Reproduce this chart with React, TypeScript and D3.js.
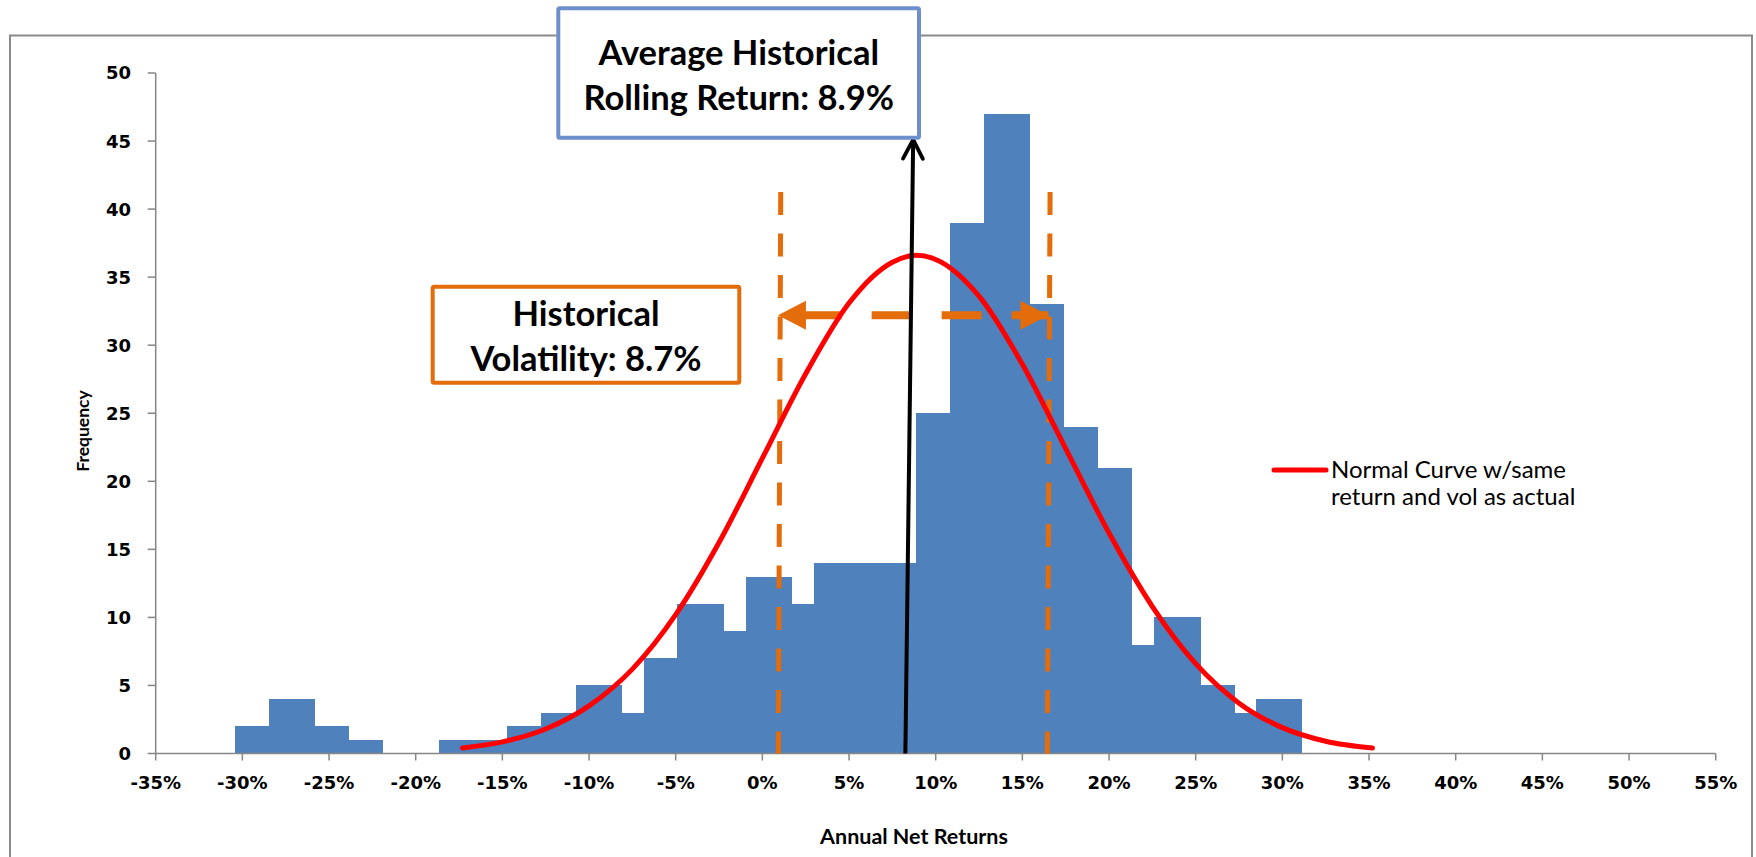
import React from 'react';
import * as d3 from 'd3';

// ---- data ----
const binStart = [-30.42, -28.46, -25.81, -23.85, -18.64, -16.67, -14.71, -12.75, -10.77, -8.13, -6.85, -4.9, -2.23, -0.94, 1.68, 2.97, 4.93, 6.89, 8.84, 10.83, 12.8, 15.44, 17.4, 19.36, 21.32, 22.62, 25.25, 27.21, 28.48];
const binEnd = [-28.46, -25.81, -23.85, -21.89, -16.67, -14.71, -12.75, -10.77, -8.13, -6.85, -4.9, -2.23, -0.94, 1.68, 2.97, 4.93, 6.89, 8.84, 10.83, 12.8, 15.44, 17.4, 19.36, 21.32, 22.62, 25.25, 27.21, 28.48, 31.12];
const frequency = [2, 4, 2, 1, 1, 1, 2, 3, 5, 3, 7, 11, 9, 13, 11, 14, 14, 14, 25, 39, 47, 33, 24, 21, 8, 10, 5, 3, 4];

const curveX = [-17.3, -15, -12.5, -10, -7.5, -5, -2.5, 0, 2.5, 5, 7.5, 8.9, 10, 12.5, 15, 17.5, 20, 22.5, 25, 27.5, 30, 32.5, 35.2];
const curveY = [0.4, 0.85, 1.8, 3.5, 6.2, 10.2, 15.5, 21.7, 27.9, 33.1, 36.1, 36.6, 36.3, 33.6, 28.6, 22.4, 16.2, 10.8, 6.6, 3.7, 1.9, 0.9, 0.4];

const xTicks = [-35, -30, -25, -20, -15, -10, -5, 0, 5, 10, 15, 20, 25, 30, 35, 40, 45, 50, 55];
const yTicks = [0, 5, 10, 15, 20, 25, 30, 35, 40, 45, 50];

// annotation values (in data units)
const avgArrowFrom = [8.25, 0];
const avgArrowTo = [8.7, 45.1];
const volLineLeft = [1.06, 0.92];   // [top x, bottom x]
const volLineRight = [16.6, 16.44];
const volLineTop = 41.25;
const volArrowX = [0.9, 16.5];
const volArrowY = 32.2;

const avgLabel = ['Average Historical', 'Rolling Return: 8.9%'];
const volLabel = ['Historical', 'Volatility: 8.7%'];
const legendLabel = ['Normal Curve w/same', 'return and vol as actual'];

const BLUE = '#4F81BD';
const ORANGE = '#E46C0A';
const AXIS = '#868686';
const TICKFONT = '"DejaVu Sans", Verdana, sans-serif';
const TEXTFONT = 'Lato, "Open Sans", sans-serif';

export default function App() {
  const W = 1756, H = 857;
  const x = d3.scaleLinear().domain([-35, 55]).range([155.7, 1715.7]);
  const y = d3.scaleLinear().domain([0, 50]).range([753.5, 73]);

  const curvePts: [number, number][] = curveX.map((v, i) => [v, curveY[i]]);
  const line = d3.line<[number, number]>()
    .x(d => x(d[0]))
    .y(d => y(d[1]))
    .curve(d3.curveMonotoneX);

  // black arrow head
  const tx = x(avgArrowTo[0]), ty = y(avgArrowTo[1]);
  const bx = x(avgArrowFrom[0]), by = y(avgArrowFrom[1]);
  const ang = Math.atan2(by - ty, bx - tx);
  const headLen = 21.5, headAng = 0.48;
  const a1 = [tx + headLen * Math.cos(ang + headAng), ty + headLen * Math.sin(ang + headAng)];
  const a2 = [tx + headLen * Math.cos(ang - headAng), ty + headLen * Math.sin(ang - headAng)];

  // vol arrow
  const vy = y(volArrowY);
  const vl = x(volArrowX[0]);
  const vr = x(volArrowX[1]);
  const triL = 28, triH = 14.5;

  return (
    <svg width={W} height={H} style={{ position: 'absolute', left: 0, top: 0, background: '#fff' }}>
      <rect x={0} y={0} width={W} height={H} fill="#fff" />
      {/* outer chart border */}
      <rect x={10} y={35.5} width={1742} height={900} fill="none" stroke="#8a8a8a" strokeWidth={2} />

      {/* bars */}
      <g shapeRendering="crispEdges">
        {frequency.map((f, i) => (
          <rect key={i} x={x(binStart[i])} y={y(f)} width={x(binEnd[i]) - x(binStart[i]) + 0.5}
            height={y(0) - y(f)} fill={BLUE} />
        ))}
      </g>

      {/* axes */}
      <line x1={x(-35)} x2={x(55)} y1={y(0)} y2={y(0)} stroke={AXIS} strokeWidth={1.5} />
      {xTicks.map(t => (
        <g key={t}>
          <line x1={x(t)} x2={x(t)} y1={y(0)} y2={y(0) + 7} stroke={AXIS} strokeWidth={1.5} />
          <text x={x(t)} y={789} textAnchor="middle" fontFamily={TICKFONT} fontWeight="bold" fontSize={18} fill="#000">
            {t + '%'}
          </text>
        </g>
      ))}
      <line x1={x(-35)} x2={x(-35)} y1={y(0)} y2={y(50)} stroke={AXIS} strokeWidth={1.5} />
      {yTicks.map(t => (
        <g key={t}>
          <line x1={x(-35) - 8} x2={x(-35)} y1={y(t)} y2={y(t)} stroke={AXIS} strokeWidth={1.5} />
          <text x={131} y={y(t)} dy="0.36em" textAnchor="end" fontFamily={TICKFONT} fontWeight="bold" fontSize={18} fill="#000">
            {t}
          </text>
        </g>
      ))}
      <text x={914} y={844} textAnchor="middle" fontFamily={TEXTFONT} fontWeight="bold" fontSize={21.5} fill="#000">
        Annual Net Returns
      </text>
      <text transform="translate(89,431) rotate(-90)" textAnchor="middle" fontFamily={TEXTFONT} fontWeight="bold" fontSize={17.5} fill="#000">
        Frequency
      </text>

      {/* orange vertical dashed lines */}
      {[volLineLeft, volLineRight].map((l, i) => (
        <line key={i} x1={x(l[0])} y1={y(volLineTop)} x2={x(l[1])} y2={y(0)}
          stroke={ORANGE} strokeWidth={5} strokeDasharray="23 18.5" />
      ))}
      {/* orange horizontal double arrow */}
      <line x1={vl} x2={vr} y1={vy} y2={vy} stroke={ORANGE} strokeWidth={8} strokeDasharray="40 30" strokeDashoffset={46.3} />
      <path d={`M${vl},${vy} L${vl + triL},${vy - triH} L${vl + triL},${vy + triH} Z`} fill={ORANGE} />
      <path d={`M${vr},${vy} L${vr - triL},${vy - triH} L${vr - triL},${vy + triH} Z`} fill={ORANGE} />

      {/* normal curve */}
      <path d={line(curvePts) || ''} fill="none" stroke="#FF0000" strokeWidth={5} strokeLinecap="round" />

      {/* black arrow */}
      <line x1={bx} y1={by} x2={tx} y2={ty} stroke="#000" strokeWidth={4} />
      <polyline points={`${a1[0]},${a1[1]} ${tx},${ty} ${a2[0]},${a2[1]}`} fill="none" stroke="#000" strokeWidth={3.8} strokeLinecap="round" strokeLinejoin="miter" />

      {/* average box */}
      <rect x={558.3} y={8.3} width={360.7} height={129.4} fill="#fff" stroke="#6D8FCB" strokeWidth={4} rx={1.5} />
      <text x={738.7} y={65} textAnchor="middle" fontFamily={TEXTFONT} fontWeight="bold" fontSize={34.5} fill="#000">{avgLabel[0]}</text>
      <text x={738.7} y={110} textAnchor="middle" fontFamily={TEXTFONT} fontWeight="bold" fontSize={34.5} fill="#000">{avgLabel[1]}</text>

      {/* volatility box */}
      <rect x={432.7} y={286.7} width={306.6} height={96} fill="#fff" stroke={ORANGE} strokeWidth={4} rx={1.5} />
      <text x={586} y={326} textAnchor="middle" fontFamily={TEXTFONT} fontWeight="bold" fontSize={34.5} fill="#000">{volLabel[0]}</text>
      <text x={586} y={371} textAnchor="middle" fontFamily={TEXTFONT} fontWeight="bold" fontSize={34.5} fill="#000">{volLabel[1]}</text>

      {/* legend */}
      <line x1={1274} x2={1326} y1={470} y2={470} stroke="#FF0000" strokeWidth={5} strokeLinecap="round" />
      <text x={1331} y={478} fontFamily={TEXTFONT} fontSize={24} fill="#000">{legendLabel[0]}</text>
      <text x={1331} y={505} fontFamily={TEXTFONT} fontSize={24} fill="#000">{legendLabel[1]}</text>
    </svg>
  );
}
